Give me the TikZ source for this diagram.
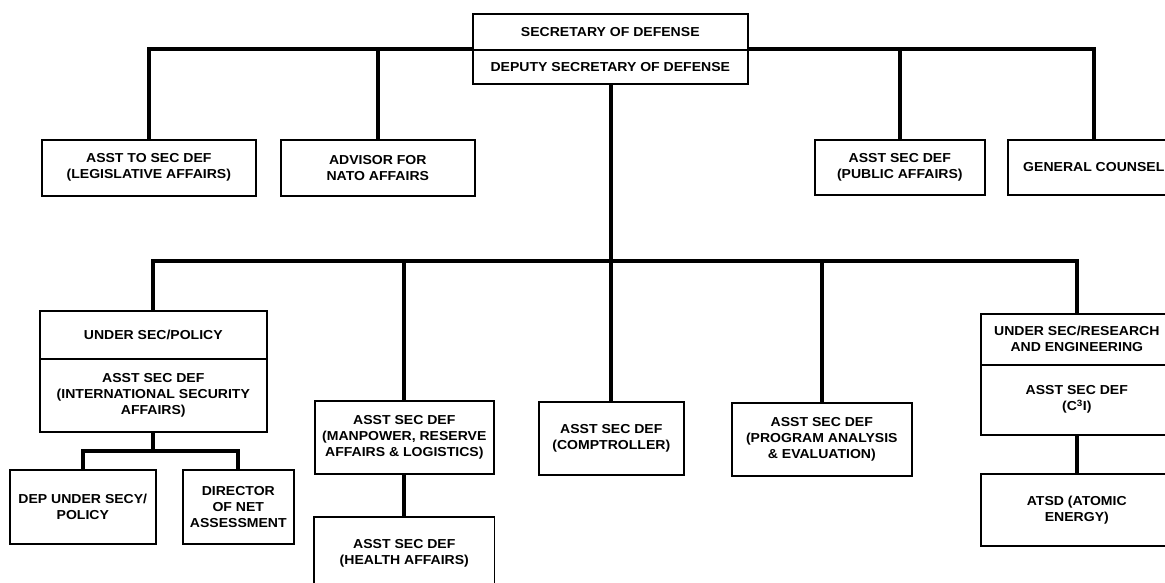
\documentclass[tikz,border=0pt]{standalone}
\usepackage{fontspec}
\newfontfamily\orgfont{Liberation Sans}[FakeStretch=1.08]
\usetikzlibrary{calc}
\begin{document}
\begin{tikzpicture}[x=1pt,y=-1pt,
  box/.style={draw, line width=1.6pt, rectangle, align=center, inner sep=0pt,
    anchor=north west, fill=white,
    font=\orgfont\bfseries\fontsize{13}{16}\selectfont},
  conn/.style={line width=4pt, line join=miter}
]
\useasboundingbox (0,0) rectangle (1165,582);
\fill[white] (0,0) rectangle (1165,582);
\clip (0,0) rectangle (1165,582);

% Office of the Secretary
\node[box, minimum width=275pt, minimum height=36pt] (secA) at (472,13) {SECRETARY OF DEFENSE};
\node[box, minimum width=275pt, minimum height=34pt] (secB) at (472,49) {DEPUTY SECRETARY OF DEFENSE};

% Staff offices
\node[box, minimum width=214pt, minimum height=56pt] (legis) at (41,139) {ASST TO SEC DEF\\(LEGISLATIVE AFFAIRS)};
\node[box, minimum width=194pt, minimum height=56pt] (nato) at (280,139) {ADVISOR FOR\\NATO AFFAIRS};
\node[box, minimum width=170pt, minimum height=55pt] (pub) at (814,139) {ASST SEC DEF\\(PUBLIC AFFAIRS)};
\node[box, minimum width=172pt, minimum height=55pt] (gc) at (1007,139) {GENERAL COUNSEL};

% Policy
\node[box, minimum width=227pt, minimum height=48pt] (usp) at (39,310) {UNDER SEC/POLICY};
\node[box, minimum width=227pt, minimum height=73pt] (usp2) at (39,358) {ASST SEC DEF\\(INTERNATIONAL SECURITY\\AFFAIRS)};
\node[box, minimum width=146pt, minimum height=74pt] (dep) at (9,469) {DEP UNDER SECY/\\POLICY};
\node[box, minimum width=111pt, minimum height=74pt] (dir) at (182,469) {DIRECTOR\\OF NET\\ASSESSMENT};

% Assistant secretaries
\node[box, minimum width=179pt, minimum height=73pt] (mra) at (314,400) {ASST SEC DEF\\(MANPOWER, RESERVE\\AFFAIRS \& LOGISTICS)};
% the health affairs box runs off the lower edge, so its outline is open below
\node[box, draw=none, minimum width=179pt, minimum height=72pt] (health) at (314,517) {ASST SEC DEF\\(HEALTH AFFAIRS)};
\draw[line width=1.6pt] ([yshift=-30pt]health.south west) |- (health.north east) -- ([yshift=-30pt]health.south east);
\node[box, minimum width=145pt, minimum height=73pt] (comp) at (538,401) {ASST SEC DEF\\(COMPTROLLER)};
\node[box, minimum width=180pt, minimum height=73pt] (pae) at (731,402) {ASST SEC DEF\\(PROGRAM ANALYSIS\\\& EVALUATION)};

% Research and engineering
\node[box, minimum width=192pt, minimum height=51pt] (usre) at (980,313) {UNDER SEC/RESEARCH\\AND ENGINEERING};
\node[box, minimum width=192pt, minimum height=70pt] (usre2) at (980,364) {ASST SEC DEF\\(C\textsuperscript{3}I)};
\node[box, minimum width=192pt, minimum height=72pt] (atsd) at (980,473) {ATSD (ATOMIC\\ENERGY)};

% Connectors
\coordinate (bar) at (610.5,261);
\coordinate (fork) at ($(usp2.south)+(0,18)$);

\draw[conn] (legis.north) |- (secB.north west);
\draw[conn] (nato.north) -- (nato.north |- secB.north west);
\draw[conn] (secB.north east) -| (gc.north);
\draw[conn] (pub.north) -- (pub.north |- secB.north east);

\draw[conn] (secB.south -| comp.north) -- (comp.north);
\draw[conn] (usp.north) |- (bar) -| (usre.north);
\draw[conn] (mra.north) -- (mra.north |- bar);
\draw[conn] (pae.north) -- (pae.north |- bar);

\draw[conn] (usp2.south) -- (fork);
\draw[conn] (dep.north) |- (fork) -| (dir.north);
\draw[conn] (mra.south) -- (health.north);
\draw[conn] (usre2.south) -- (atsd.north);
\end{tikzpicture}
\end{document}
